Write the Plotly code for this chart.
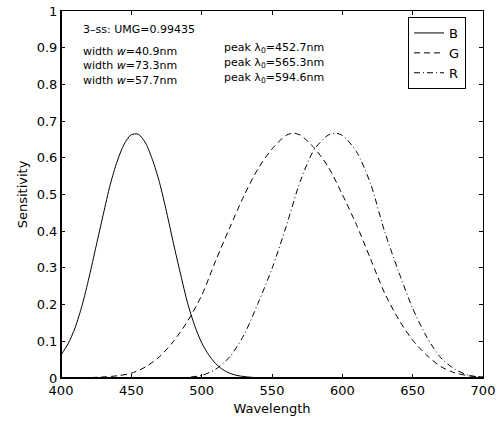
import plotly.graph_objects as go

# ---- data ----
b_wl = [400, 405, 410, 415, 420, 425, 430, 435, 440, 445, 450, 455, 460, 465, 470, 475,
        480, 485, 490, 495, 500, 505, 510, 515, 520, 525, 530, 535, 540, 545, 550, 600, 650, 700]
b_val = [0.063, 0.093, 0.137, 0.198, 0.275, 0.360, 0.445, 0.527, 0.591, 0.638, 0.663, 0.664,
         0.641, 0.595, 0.533, 0.453, 0.366, 0.283, 0.204, 0.143, 0.096, 0.063, 0.039, 0.023,
         0.013, 0.007, 0.004, 0.002, 0.001, 0.0005, 0.0, 0.0, 0.0, 0.0]

g_wl = [400, 420, 430, 440, 450, 460, 470, 480, 490, 500, 510, 520, 530, 540, 550, 560, 565,
        570, 580, 590, 600, 610, 620, 630, 640, 650, 660, 670, 680, 690, 700]
g_val = [0.0, 0.001, 0.003, 0.006, 0.013, 0.030, 0.058, 0.100, 0.155, 0.225, 0.320, 0.410,
         0.496, 0.570, 0.624, 0.661, 0.667, 0.662, 0.627, 0.575, 0.500, 0.418, 0.325, 0.232,
         0.160, 0.103, 0.062, 0.031, 0.014, 0.006, 0.003]

r_wl = [400, 450, 470, 480, 490, 500, 510, 520, 530, 540, 550, 560, 570, 580, 590, 595, 600,
        610, 620, 630, 640, 650, 660, 670, 680, 690, 700]
r_val = [0.0, 0.0, 0.0003, 0.0008, 0.002, 0.007, 0.024, 0.058, 0.117, 0.203, 0.298, 0.412,
         0.535, 0.622, 0.662, 0.667, 0.661, 0.617, 0.530, 0.400, 0.290, 0.190, 0.112, 0.055,
         0.024, 0.007, 0.002]

series_names = ["B", "G", "R"]
x_ticks = [400, 450, 500, 550, 600, 650, 700]
y_ticks = [0, 0.1, 0.2, 0.3, 0.4, 0.5, 0.6, 0.7, 0.8, 0.9, 1]
y_tick_text = ["0", "0.1", "0.2", "0.3", "0.4", "0.5", "0.6", "0.7", "0.8", "0.9", "1"]

info_left = ["3\u2013ss: UMG=0.99435", "width <i>w</i>=40.9nm", "width <i>w</i>=73.3nm",
             "width <i>w</i>=57.7nm"]
info_right = ["peak \u03bb<sub>0</sub>=452.7nm", "peak \u03bb<sub>0</sub>=565.3nm",
              "peak \u03bb<sub>0</sub>=594.6nm"]

FONT = "DejaVu Sans"

fig = go.Figure()
styles = ["solid", "6px,4px", "6px,3px,1px,3px"]
for name, xs, ys, dash in zip(series_names, [b_wl, g_wl, r_wl], [b_val, g_val, r_val], styles):
    fig.add_trace(go.Scatter(x=xs, y=ys, name=name, mode="lines",
                             line=dict(color="black", width=1, dash=dash,
                                       shape="spline", smoothing=0.8)))

axis_common = dict(showgrid=False, zeroline=False, showline=True, linecolor="black",
                   linewidth=1, mirror="ticks", ticks="inside", ticklen=4,
                   tickcolor="black", tickfont=dict(family=FONT, size=13, color="black"))

fig.update_xaxes(range=[400, 700], tickvals=x_ticks, **axis_common,
                 title=dict(text="Wavelength", font=dict(family=FONT, size=13, color="black"),
                            standoff=7))
fig.update_yaxes(range=[0, 1], tickvals=y_ticks, ticktext=y_tick_text, **axis_common,
                 title=dict(text="Sensitivity", font=dict(family=FONT, size=13, color="black"),
                            standoff=6))

# thicker left/bottom axis lines
fig.add_shape(type="line", xref="paper", yref="paper", x0=0, x1=0, y0=0, y1=1,
              line=dict(color="black", width=2))
fig.add_shape(type="line", xref="paper", yref="paper", x0=0, x1=1, y0=0, y1=0,
              line=dict(color="black", width=2))

FW, FH = 500, 423
L, T, W, H = 61, 11, 422, 367
def px(xp, yp):
    return (xp - L) / W, 1 - (yp - T) / H

left_y = [29, 51, 65.5, 80]
for txt, yy in zip(info_left, left_y):
    xx, yv = px(81, yy)
    fig.add_annotation(text=txt, x=xx, y=yv, xref="paper", yref="paper",
                       xanchor="left", yanchor="middle", showarrow=False,
                       font=dict(family=FONT, size=11, color="black"))
right_y = [48, 63.5, 78]
for txt, yy in zip(info_right, right_y):
    xx, yv = px(222, yy)
    fig.add_annotation(text=txt, x=xx, y=yv, xref="paper", yref="paper",
                       xanchor="left", yanchor="middle", showarrow=False,
                       font=dict(family=FONT, size=11, color="black"))

lx, ly = px(408, 17)
fig.update_layout(
    width=FW, height=FH,
    margin=dict(l=L, r=FW - L - W, t=T, b=FH - T - H, autoexpand=False),
    paper_bgcolor="white", plot_bgcolor="white",
    showlegend=True,
    legend=dict(x=lx, y=ly, xanchor="left", yanchor="top", bgcolor="white",
                bordercolor="black", borderwidth=1,
                font=dict(family=FONT, size=13, color="black"),
                tracegroupgap=0, itemwidth=30),
)

fig.write_html("out.html", config={"displayModeBar": False},
               post_script="document.body.style.margin='0';document.body.style.overflow='hidden';")
